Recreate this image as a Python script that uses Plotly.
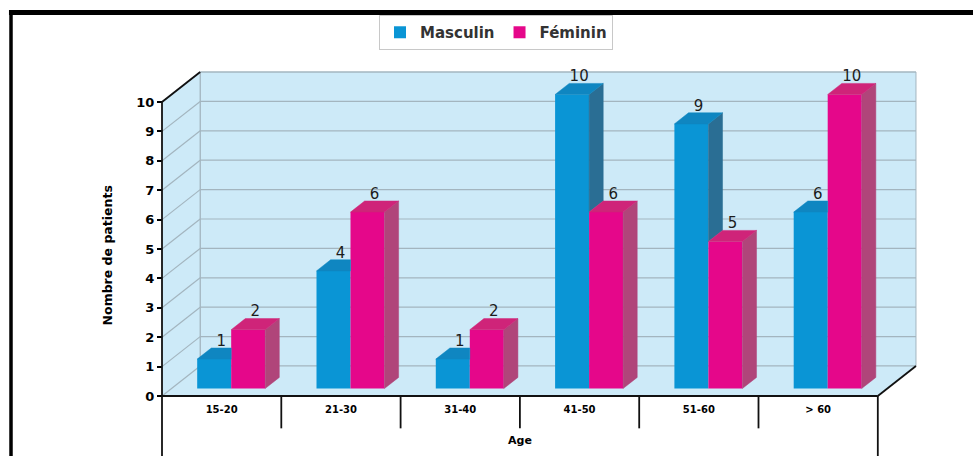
import plotly.graph_objects as go

# ---- data -------------------------------------------------------------
age_groups = ["15-20", "21-30", "31-40", "41-50", "51-60", "> 60"]
masculin = [1, 4, 1, 10, 9, 6]
feminin = [2, 6, 2, 6, 5, 10]
y_ticks = list(range(0, 11))

# ---- pseudo-3D geometry (data units) ----------------------------------
WALL_DX, WALL_DY = 0.32, 1.02          # depth of the box (back wall offset)
BAR_SHIFT = 0.25                       # bars sit a quarter of the way back
BAR_DEPTH = 0.37                       # bar thickness as a fraction of the box depth
BAR_W = 0.285

sx, sy = WALL_DX * BAR_SHIFT, WALL_DY * BAR_SHIFT
bdx, bdy = WALL_DX * BAR_DEPTH, WALL_DY * BAR_DEPTH
n = len(age_groups)
x0, x1 = -0.5, n - 0.5
YMAX = 10

BLUE = dict(front="#0A95D5", side="#2A6E94", top="#0F86C1")
PINK = dict(front="#E5078A", side="#B0457A", top="#CF2479")
WALL = "#CDEAF8"
GRID = "#A3B5BF"
FONT = "DejaVu Sans"

xm = [i + sx - BAR_W / 2 for i in range(n)]
xf = [i + sx + BAR_W / 2 for i in range(n)]

fig = go.Figure()

# front faces
fig.add_trace(go.Bar(x=xm, y=masculin, base=sy, width=BAR_W, name="Masculin",
                     marker=dict(color=BLUE["front"], line=dict(width=0))))
fig.add_trace(go.Bar(x=xf, y=feminin, base=sy, width=BAR_W, name="Féminin",
                     marker=dict(color=PINK["front"], line=dict(width=0))))


def side_poly(xc, h0, h1):
    xr = xc + BAR_W / 2
    return ([xr, xr + bdx, xr + bdx, xr, xr, None],
            [sy + h0, sy + h0 + bdy, sy + h1 + bdy, sy + h1, sy + h0, None])


def top_poly(xc, h, clip=False):
    xl, xr = xc - BAR_W / 2, xc + BAR_W / 2
    yt = sy + h
    if clip:
        return ([xl, xr, xr, xl + bdx, xl, None], [yt, yt, yt + bdy, yt + bdy, yt, None])
    return ([xl, xr, xr + bdx, xl + bdx, xl, None], [yt, yt, yt + bdy, yt + bdy, yt, None])


def add_faces(polys, color):
    xs, ys = [], []
    for px, py in polys:
        xs += px
        ys += py
    fig.add_trace(go.Scatter(x=xs, y=ys, mode="lines", fill="toself", fillcolor=color,
                             line=dict(color=color, width=0.5), hoverinfo="skip",
                             showlegend=False))


# masculine sides/top: partially hidden behind the feminine bar beside it
add_faces([side_poly(xm[i], feminin[i], masculin[i]) for i in range(n) if masculin[i] > feminin[i]],
          BLUE["side"])
add_faces([top_poly(xm[i], masculin[i], clip=feminin[i] > masculin[i]) for i in range(n)], BLUE["top"])
add_faces([side_poly(xf[i], 0, feminin[i]) for i in range(n)], PINK["side"])
add_faces([top_poly(xf[i], feminin[i]) for i in range(n)], PINK["top"])

# value labels on the bar tops
fig.add_trace(go.Scatter(
    x=[c + bdx / 2 for c in xm] + [c + bdx / 2 for c in xf],
    y=[v + sy + bdy + 0.2 for v in masculin] + [v + sy + bdy + 0.2 for v in feminin],
    text=[str(v) for v in masculin] + [str(v) for v in feminin],
    mode="text", textposition="middle center",
    textfont=dict(family=FONT, size=15, color="#1c1c1c"),
    hoverinfo="skip", showlegend=False))

# ---- box: walls, floor and grid ---------------------------------------
shapes = []
bx0, bx1 = x0 + WALL_DX, x1 + WALL_DX
# back wall, left wall, floor
shapes.append(dict(type="rect", x0=bx0, x1=bx1, y0=WALL_DY, y1=YMAX + WALL_DY,
                   fillcolor=WALL, line=dict(color=GRID, width=1), layer="below"))
shapes.append(dict(type="path", path=f"M{x0},0 L{x0},{YMAX} L{bx0},{YMAX + WALL_DY} L{bx0},{WALL_DY} Z",
                   fillcolor=WALL, line=dict(width=0), layer="below"))
shapes.append(dict(type="path", path=f"M{x0},0 L{x1},0 L{bx1},{WALL_DY} L{bx0},{WALL_DY} Z",
                   fillcolor=WALL, line=dict(width=0), layer="below"))
for k in y_ticks:
    shapes.append(dict(type="line", x0=bx0, x1=bx1, y0=k + WALL_DY, y1=k + WALL_DY,
                       line=dict(color=GRID, width=1.2), layer="below"))
    shapes.append(dict(type="line", x0=x0, x1=bx0, y0=k, y1=k + WALL_DY,
                       line=dict(color=GRID, width=1.2), layer="below"))
shapes.append(dict(type="line", x0=bx0, x1=bx0, y0=WALL_DY, y1=YMAX + WALL_DY,
                   line=dict(color=GRID, width=1.2), layer="below"))

# black edges
BLK = dict(color="#111111", width=1.8)
shapes.append(dict(type="line", x0=x0, x1=bx0, y0=YMAX, y1=YMAX + WALL_DY, line=BLK))
shapes.append(dict(type="line", x0=x0, x1=x1, y0=0, y1=0, line=BLK))
shapes.append(dict(type="line", x0=x1, x1=bx1, y0=0, y1=WALL_DY, line=BLK))

# category table under the floor
YBOT = -2.0408
shapes.append(dict(type="line", x0=x0, x1=x0, y0=YMAX, y1=YBOT, line=BLK))
shapes.append(dict(type="line", x0=x1, x1=x1, y0=0, y1=YBOT, line=BLK))
for i in range(n - 1):
    shapes.append(dict(type="line", x0=i + 0.5, x1=i + 0.5, y0=0, y1=-1.1,
                       line=dict(color="#111111", width=1.8)))

# outer frame (top and left borders)
shapes.append(dict(type="line", xref="paper", yref="paper", x0=-0.1808, x1=1.06,
                   y0=1.1197, y1=1.1197, line=dict(color="#000000", width=5)))
shapes.append(dict(type="line", xref="paper", yref="paper", x0=-0.1782, x1=-0.1782,
                   y0=1.126, y1=-0.01, line=dict(color="#000000", width=3.5)))

BOLD = "bold"
fig.update_layout(
    width=973, height=456,
    margin=dict(l=150, r=43, t=60, b=0),
    paper_bgcolor="white", plot_bgcolor="white",
    barmode="overlay",
    shapes=shapes,
    showlegend=True,
    legend=dict(orientation="h", x=0.4436, xanchor="center", y=1.1136, yanchor="top",
                bgcolor="white", bordercolor="#C8C8C8", borderwidth=1,
                font=dict(family=FONT, size=15, color="#333333", weight=BOLD),
                itemwidth=30, tracegroupgap=0),
    xaxis=dict(range=[-0.60059, 5.9375], anchor="free", position=0.1515,
               tickmode="array", tickvals=list(range(n)), ticktext=age_groups,
               ticks="", showline=False, showgrid=False, zeroline=False,
               ticklabelstandoff=6,
               tickfont=dict(family=FONT, size=10, color="#000000", weight=BOLD)),
    yaxis=dict(range=[YBOT, 11.4286], anchor="free", position=0.01538,
               tickmode="array", tickvals=y_ticks, ticks="outside", ticklen=5,
               tickwidth=2, tickcolor="#000000", showline=False, showgrid=False,
               zeroline=False,
               tickfont=dict(family=FONT, size=13, color="#000000", weight=BOLD)),
    annotations=[
        dict(text="Nombre de patients", textangle=-90, xref="paper", yref="paper",
             x=-0.0655, y=0.5076, showarrow=False,
             font=dict(family=FONT, size=12.5, color="#000000", weight=BOLD)),
        dict(text="Age", xref="x", x=(x0 + x1) / 2, yref="paper", y=0.0177, showarrow=False,
             font=dict(family=FONT, size=11, color="#000000", weight=BOLD)),
    ],
)

fig.write_html("out.html")
